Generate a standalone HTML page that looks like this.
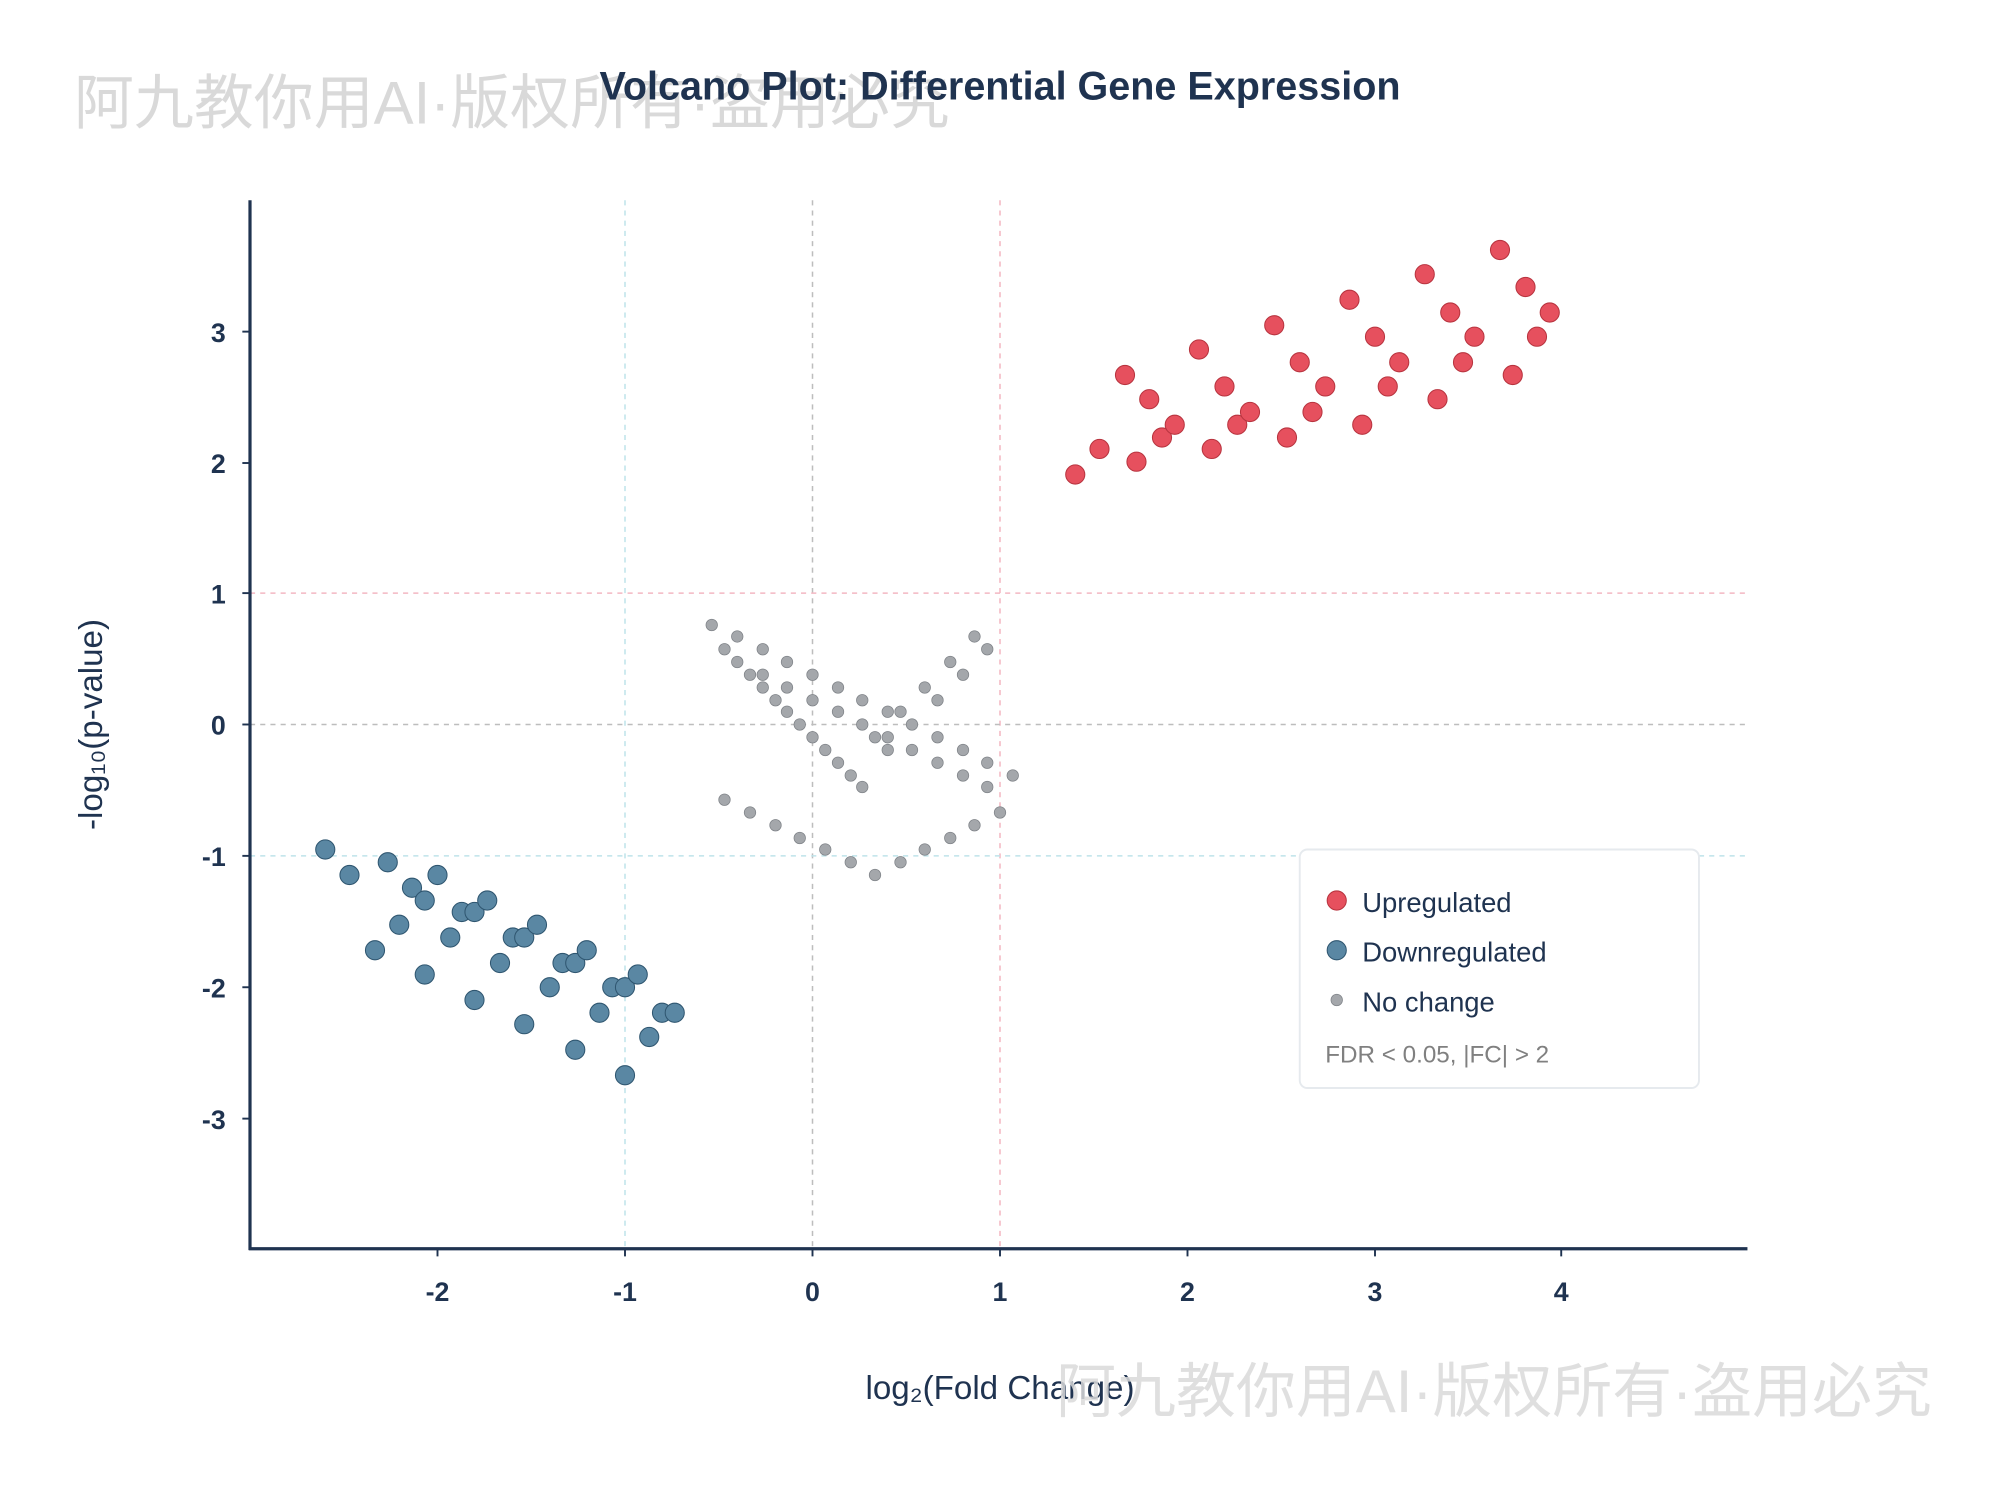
<!DOCTYPE html>
<html><head><meta charset="utf-8"><style>
html,body{margin:0;padding:0;background:#fff;}
svg{display:block;}
text{font-family:"Liberation Sans","Noto Sans CJK SC",sans-serif;}
</style></head><body>
<svg width="2000" height="1500" viewBox="0 0 1568 1176" xmlns="http://www.w3.org/2000/svg">
<rect width="1568" height="1176" fill="#fff"/>
<text x="58" y="97" font-size="47" fill="#d9d9d9">阿九教你用AI·版权所有·盗用必究</text>
<text x="784" y="78" font-size="31" font-weight="bold" fill="#1f3350" text-anchor="middle">Volcano Plot: Differential Gene Expression</text>
<g stroke-width="1.2" stroke-dasharray="4,4">
<line x1="490" y1="157" x2="490" y2="979" stroke="#bfe3ea"/>
<line x1="637" y1="157" x2="637" y2="979" stroke="#bdbdbd"/>
<line x1="784" y1="157" x2="784" y2="979" stroke="#f3b8c2"/>
<line x1="196" y1="465" x2="1370" y2="465" stroke="#f3b8c2"/>
<line x1="196" y1="568" x2="1370" y2="568" stroke="#bdbdbd"/>
<line x1="196" y1="671" x2="1370" y2="671" stroke="#bfe3ea"/>
</g>
<g stroke="#1f3350" stroke-width="2.5">
<line x1="196" y1="157" x2="196" y2="980"/>
<line x1="195" y1="979" x2="1370" y2="979"/>
</g>
<g stroke="#1f3350" stroke-width="1.5">
<line x1="343" y1="979" x2="343" y2="985"/><line x1="490" y1="979" x2="490" y2="985"/><line x1="637" y1="979" x2="637" y2="985"/><line x1="784" y1="979" x2="784" y2="985"/><line x1="931" y1="979" x2="931" y2="985"/><line x1="1078" y1="979" x2="1078" y2="985"/><line x1="1224" y1="979" x2="1224" y2="985"/>
<line x1="190" y1="260" x2="196" y2="260"/><line x1="190" y1="363" x2="196" y2="363"/><line x1="190" y1="465" x2="196" y2="465"/><line x1="190" y1="568" x2="196" y2="568"/><line x1="190" y1="671" x2="196" y2="671"/><line x1="190" y1="774" x2="196" y2="774"/><line x1="190" y1="877" x2="196" y2="877"/>
</g>
<g font-size="21" font-weight="bold" fill="#1f3350" text-anchor="middle">
<text x="343" y="1020">-2</text><text x="490" y="1020">-1</text><text x="637" y="1020">0</text><text x="784" y="1020">1</text><text x="931" y="1020">2</text><text x="1078" y="1020">3</text><text x="1224" y="1020">4</text>
</g>
<g font-size="21" font-weight="bold" fill="#1f3350" text-anchor="end">
<text x="177" y="268">3</text><text x="177" y="371">2</text><text x="177" y="473">1</text><text x="177" y="576">0</text><text x="177" y="679">-1</text><text x="177" y="782">-2</text><text x="177" y="885">-3</text>
</g>
<text x="784" y="1097" font-size="26" fill="#1f3350" text-anchor="middle">log₂(Fold Change)</text>
<text transform="translate(80,568) rotate(-90)" font-size="26" fill="#1f3350" text-anchor="middle">-log₁₀(p-value)</text>
<g fill="#e6505e" stroke="#b8343f" stroke-width="0.8">
<circle cx="843" cy="372" r="7.5"/><circle cx="862" cy="352" r="7.5"/><circle cx="882" cy="294" r="7.5"/><circle cx="891" cy="362" r="7.5"/><circle cx="901" cy="313" r="7.5"/><circle cx="911" cy="343" r="7.5"/><circle cx="921" cy="333" r="7.5"/><circle cx="940" cy="274" r="7.5"/><circle cx="950" cy="352" r="7.5"/><circle cx="960" cy="303" r="7.5"/><circle cx="970" cy="333" r="7.5"/><circle cx="980" cy="323" r="7.5"/><circle cx="999" cy="255" r="7.5"/><circle cx="1009" cy="343" r="7.5"/><circle cx="1019" cy="284" r="7.5"/><circle cx="1029" cy="323" r="7.5"/><circle cx="1039" cy="303" r="7.5"/><circle cx="1058" cy="235" r="7.5"/><circle cx="1068" cy="333" r="7.5"/><circle cx="1078" cy="264" r="7.5"/><circle cx="1088" cy="303" r="7.5"/><circle cx="1097" cy="284" r="7.5"/><circle cx="1117" cy="215" r="7.5"/><circle cx="1127" cy="313" r="7.5"/><circle cx="1137" cy="245" r="7.5"/><circle cx="1147" cy="284" r="7.5"/><circle cx="1156" cy="264" r="7.5"/><circle cx="1176" cy="196" r="7.5"/><circle cx="1186" cy="294" r="7.5"/><circle cx="1196" cy="225" r="7.5"/><circle cx="1205" cy="264" r="7.5"/><circle cx="1215" cy="245" r="7.5"/>
</g>
<g fill="#5a87a3" stroke="#2f5670" stroke-width="0.8">
<circle cx="255" cy="666" r="7.5"/><circle cx="274" cy="686" r="7.5"/><circle cx="294" cy="745" r="7.5"/><circle cx="304" cy="676" r="7.5"/><circle cx="313" cy="725" r="7.5"/><circle cx="323" cy="696" r="7.5"/><circle cx="333" cy="706" r="7.5"/><circle cx="333" cy="764" r="7.5"/><circle cx="343" cy="686" r="7.5"/><circle cx="353" cy="735" r="7.5"/><circle cx="362" cy="715" r="7.5"/><circle cx="372" cy="715" r="7.5"/><circle cx="372" cy="784" r="7.5"/><circle cx="382" cy="706" r="7.5"/><circle cx="392" cy="755" r="7.5"/><circle cx="402" cy="735" r="7.5"/><circle cx="411" cy="735" r="7.5"/><circle cx="411" cy="803" r="7.5"/><circle cx="421" cy="725" r="7.5"/><circle cx="431" cy="774" r="7.5"/><circle cx="441" cy="755" r="7.5"/><circle cx="451" cy="755" r="7.5"/><circle cx="451" cy="823" r="7.5"/><circle cx="460" cy="745" r="7.5"/><circle cx="470" cy="794" r="7.5"/><circle cx="480" cy="774" r="7.5"/><circle cx="490" cy="774" r="7.5"/><circle cx="490" cy="843" r="7.5"/><circle cx="500" cy="764" r="7.5"/><circle cx="509" cy="813" r="7.5"/><circle cx="519" cy="794" r="7.5"/><circle cx="529" cy="794" r="7.5"/>
</g>
<g fill="#a4a7ab" stroke="#7f8388" stroke-width="0.6">
<circle cx="558" cy="490" r="4.5"/><circle cx="568" cy="509" r="4.5"/><circle cx="578" cy="499" r="4.5"/><circle cx="578" cy="519" r="4.5"/><circle cx="588" cy="529" r="4.5"/><circle cx="598" cy="509" r="4.5"/><circle cx="598" cy="529" r="4.5"/><circle cx="598" cy="539" r="4.5"/><circle cx="608" cy="549" r="4.5"/><circle cx="617" cy="519" r="4.5"/><circle cx="617" cy="539" r="4.5"/><circle cx="617" cy="558" r="4.5"/><circle cx="627" cy="568" r="4.5"/><circle cx="637" cy="529" r="4.5"/><circle cx="637" cy="549" r="4.5"/><circle cx="637" cy="578" r="4.5"/><circle cx="647" cy="588" r="4.5"/><circle cx="657" cy="539" r="4.5"/><circle cx="657" cy="558" r="4.5"/><circle cx="657" cy="598" r="4.5"/><circle cx="667" cy="608" r="4.5"/><circle cx="676" cy="549" r="4.5"/><circle cx="676" cy="568" r="4.5"/><circle cx="676" cy="617" r="4.5"/><circle cx="686" cy="578" r="4.5"/><circle cx="696" cy="558" r="4.5"/><circle cx="696" cy="578" r="4.5"/><circle cx="696" cy="588" r="4.5"/><circle cx="706" cy="558" r="4.5"/><circle cx="715" cy="568" r="4.5"/><circle cx="715" cy="588" r="4.5"/><circle cx="725" cy="539" r="4.5"/><circle cx="735" cy="549" r="4.5"/><circle cx="735" cy="578" r="4.5"/><circle cx="735" cy="598" r="4.5"/><circle cx="745" cy="519" r="4.5"/><circle cx="755" cy="529" r="4.5"/><circle cx="755" cy="588" r="4.5"/><circle cx="755" cy="608" r="4.5"/><circle cx="764" cy="499" r="4.5"/><circle cx="774" cy="509" r="4.5"/><circle cx="774" cy="598" r="4.5"/><circle cx="774" cy="617" r="4.5"/><circle cx="794" cy="608" r="4.5"/>
<circle cx="568" cy="627" r="4.5"/><circle cx="588" cy="637" r="4.5"/><circle cx="608" cy="647" r="4.5"/><circle cx="627" cy="657" r="4.5"/><circle cx="647" cy="666" r="4.5"/><circle cx="667" cy="676" r="4.5"/><circle cx="686" cy="686" r="4.5"/><circle cx="706" cy="676" r="4.5"/><circle cx="725" cy="666" r="4.5"/><circle cx="745" cy="657" r="4.5"/><circle cx="764" cy="647" r="4.5"/><circle cx="784" cy="637" r="4.5"/>
</g>
<rect x="1019" y="666" width="313" height="187" rx="6" fill="#fff" stroke="#e6eaee" stroke-width="1.5"/>
<circle cx="1048" cy="706" r="7.5" fill="#e6505e" stroke="#b8343f" stroke-width="0.8"/>
<circle cx="1048" cy="745" r="7.5" fill="#5a87a3" stroke="#2f5670" stroke-width="0.8"/>
<circle cx="1048" cy="784" r="4.5" fill="#a4a7ab" stroke="#7f8388" stroke-width="0.6"/>
<g font-size="21.5" fill="#1f3350">
<text x="1068" y="715">Upregulated</text>
<text x="1068" y="754">Downregulated</text>
<text x="1068" y="793">No change</text>
</g>
<text x="1039" y="833" font-size="19" fill="#808080">FDR &lt; 0.05, |FC| &gt; 2</text>
<text x="828" y="1107" font-size="47" fill="#d9d9d9" fill-opacity="0.85">阿九教你用AI·版权所有·盗用必究</text>
</svg>
</body></html>
